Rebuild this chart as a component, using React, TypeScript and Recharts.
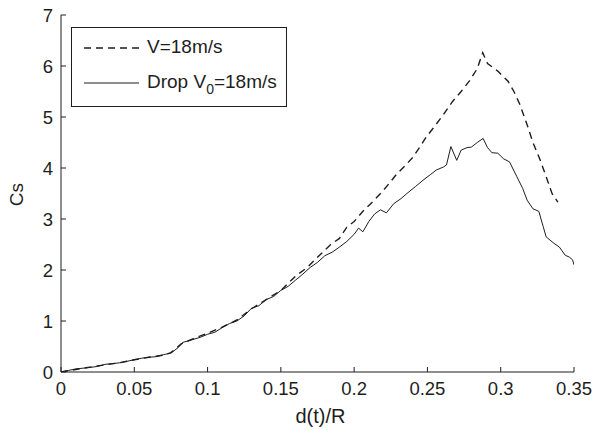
import { CartesianGrid, Legend, Line, LineChart, XAxis, YAxis } from 'recharts';

// d(t)/R positions and Cs values
const dropX = [
  0, 0.005, 0.01, 0.02, 0.025, 0.03, 0.04, 0.05, 0.055, 0.06, 0.065, 0.07, 0.075, 0.08, 0.083, 0.088,
  0.095, 0.1, 0.105, 0.11, 0.115, 0.12, 0.125, 0.13, 0.135, 0.14, 0.145, 0.15, 0.155, 0.16, 0.165,
  0.17, 0.175, 0.18, 0.185, 0.19, 0.195, 0.2, 0.203, 0.206, 0.21, 0.214, 0.218, 0.222, 0.227, 0.232,
  0.236, 0.242, 0.247, 0.252, 0.256, 0.261, 0.263, 0.266, 0.27, 0.273, 0.277, 0.28, 0.284, 0.288,
  0.291, 0.294, 0.298, 0.302, 0.306, 0.311, 0.315, 0.318, 0.322, 0.326, 0.329, 0.331, 0.336, 0.34,
  0.344, 0.347, 0.349, 0.35,
];
const dropCs = [
  0, 0.03, 0.06, 0.09, 0.11, 0.15, 0.18, 0.24, 0.27, 0.29, 0.3, 0.34, 0.37, 0.48, 0.58, 0.62,
  0.68, 0.74, 0.78, 0.87, 0.95, 1.0, 1.1, 1.25, 1.3, 1.42, 1.48, 1.6, 1.68, 1.8, 1.92,
  2.05, 2.15, 2.28, 2.35, 2.45, 2.56, 2.7, 2.82, 2.75, 2.95, 3.1, 3.18, 3.12, 3.3, 3.4,
  3.5, 3.64, 3.76, 3.87, 3.96, 4.02, 4.06, 4.42, 4.15, 4.35, 4.4, 4.41, 4.5, 4.58,
  4.4, 4.3, 4.29, 4.18, 4.12, 3.83, 3.6, 3.37, 3.2, 3.15, 2.85, 2.65, 2.53, 2.45,
  2.29, 2.25, 2.2, 2.1,
];

const constX = [
  0, 0.01, 0.025, 0.04, 0.05, 0.06, 0.07, 0.075, 0.082, 0.09, 0.1, 0.11, 0.12, 0.13, 0.14, 0.15,
  0.16, 0.168, 0.175, 0.184, 0.19, 0.195, 0.2, 0.206, 0.212, 0.218, 0.224, 0.229, 0.235, 0.24,
  0.245, 0.249, 0.255, 0.261, 0.267, 0.273, 0.279, 0.284, 0.2877, 0.291, 0.298, 0.305, 0.309,
  0.313, 0.318, 0.322, 0.327, 0.331, 0.335, 0.339,
];
const constCs = [
  0, 0.05, 0.12, 0.18, 0.24, 0.29, 0.33, 0.38, 0.55, 0.65, 0.76, 0.88, 1.02, 1.24, 1.42, 1.6,
  1.88, 2.05, 2.25, 2.5, 2.62, 2.84, 2.95, 3.15, 3.32, 3.5, 3.7, 3.88, 4.05, 4.21,
  4.42, 4.6, 4.82, 5.05, 5.3, 5.5, 5.72, 5.95, 6.26, 6.05, 5.9, 5.7, 5.5,
  5.25, 4.85, 4.5, 4.15, 3.83, 3.5, 3.33,
];

const xTicks = [0, 0.05, 0.1, 0.15, 0.2, 0.25, 0.3, 0.35];
const yTicks = [0, 1, 2, 3, 4, 5, 6, 7];

const dropData = dropX.map((x, i) => ({ x, cs: dropCs[i] }));
const constData = constX.map((x, i) => ({ x, cs: constCs[i] }));

const font = '"Liberation Sans", Arial, sans-serif';
const ink = '#1e1e1e';

const NoLabel = () => <g />;

const LegendBox = () => (
  <div
    style={{
      position: 'relative',
      width: 216,
      height: 80,
      border: `1.5px solid ${ink}`,
      boxSizing: 'border-box',
      background: '#fff',
      fontFamily: font,
      fontSize: 19,
      color: ink,
    }}
  >
    <svg width={60} height={80} style={{ position: 'absolute', left: 10, top: 0 }}>
      <line x1={2} x2={57} y1={20} y2={20} stroke={ink} strokeWidth={1.3} strokeDasharray='7 5' />
      <line x1={2} x2={57} y1={55} y2={55} stroke={ink} strokeWidth={1} />
    </svg>
    <div style={{ position: 'absolute', left: 75, top: 8, lineHeight: '22px' }}>V=18m/s</div>
    <div style={{ position: 'absolute', left: 75, top: 43, lineHeight: '22px', whiteSpace: 'nowrap' }}>
      Drop V<sub style={{ fontSize: 14, verticalAlign: -6 }}>0</sub>=18m/s
    </div>
  </div>
);

export default function App() {
  return (
    <div style={{ position: 'absolute', left: 0, top: 0, background: '#fff' }}>
      <LineChart width={597} height={430} margin={{ top: 15, right: 23, left: 0, bottom: 0 }}>
        <CartesianGrid stroke='none' />
        <XAxis
          dataKey='x'
          type='number'
          domain={[0, 0.35]}
          ticks={xTicks}
          height={58}
          tickSize={-5}
          tickMargin={15}
          stroke={ink}
          allowDataOverflow
          tick={{ fill: ink, fontSize: 18.5, fontFamily: font }}
          label={({ viewBox }: any) => (
            <text
              x={viewBox.x + viewBox.width / 2 + 3}
              y={viewBox.y + 51}
              textAnchor='middle'
              fill={ink}
              fontSize={20}
              fontFamily={font}
            >
              d(t)/R
            </text>
          )}
        />
        <XAxis
          xAxisId='top'
          orientation='top'
          dataKey='x'
          type='number'
          domain={[0, 0.35]}
          ticks={xTicks}
          height={0}
          tickSize={-5}
          stroke={ink}
          allowDataOverflow
          tick={NoLabel}
        />
        <YAxis
          type='number'
          domain={[0, 7]}
          ticks={yTicks}
          width={61}
          tickSize={-5}
          tickMargin={13}
          stroke={ink}
          allowDataOverflow
          tick={{ fill: ink, fontSize: 18.5, fontFamily: font }}
          label={({ viewBox }: any) => {
            const cx = viewBox.x + 16;
            const cy = viewBox.y + viewBox.height / 2 + 1;
            return (
              <text
                x={cx}
                y={cy}
                transform={`rotate(-90 ${cx} ${cy})`}
                textAnchor='middle'
                dominantBaseline='central'
                fill={ink}
                fontSize={19}
                fontFamily={font}
              >
                Cs
              </text>
            );
          }}
        />
        <YAxis
          yAxisId='right'
          orientation='right'
          type='number'
          domain={[0, 7]}
          ticks={yTicks}
          width={0}
          tickSize={-5}
          stroke={ink}
          allowDataOverflow
          tick={NoLabel}
        />
        <Legend
          layout='vertical'
          align='center'
          verticalAlign='middle'
          content={LegendBox}
          wrapperStyle={{ position: 'absolute', left: 71, top: 27, width: 216, height: 80 }}
        />
        <Line
          data={constData}
          dataKey='cs'
          type='linear'
          stroke={ink}
          strokeWidth={1.4}
          strokeDasharray='7 5'
          dot={false}
          isAnimationActive={false}
        />
        <Line
          data={dropData}
          dataKey='cs'
          type='linear'
          stroke={ink}
          strokeWidth={1}
          dot={false}
          isAnimationActive={false}
        />
      </LineChart>
    </div>
  );
}
